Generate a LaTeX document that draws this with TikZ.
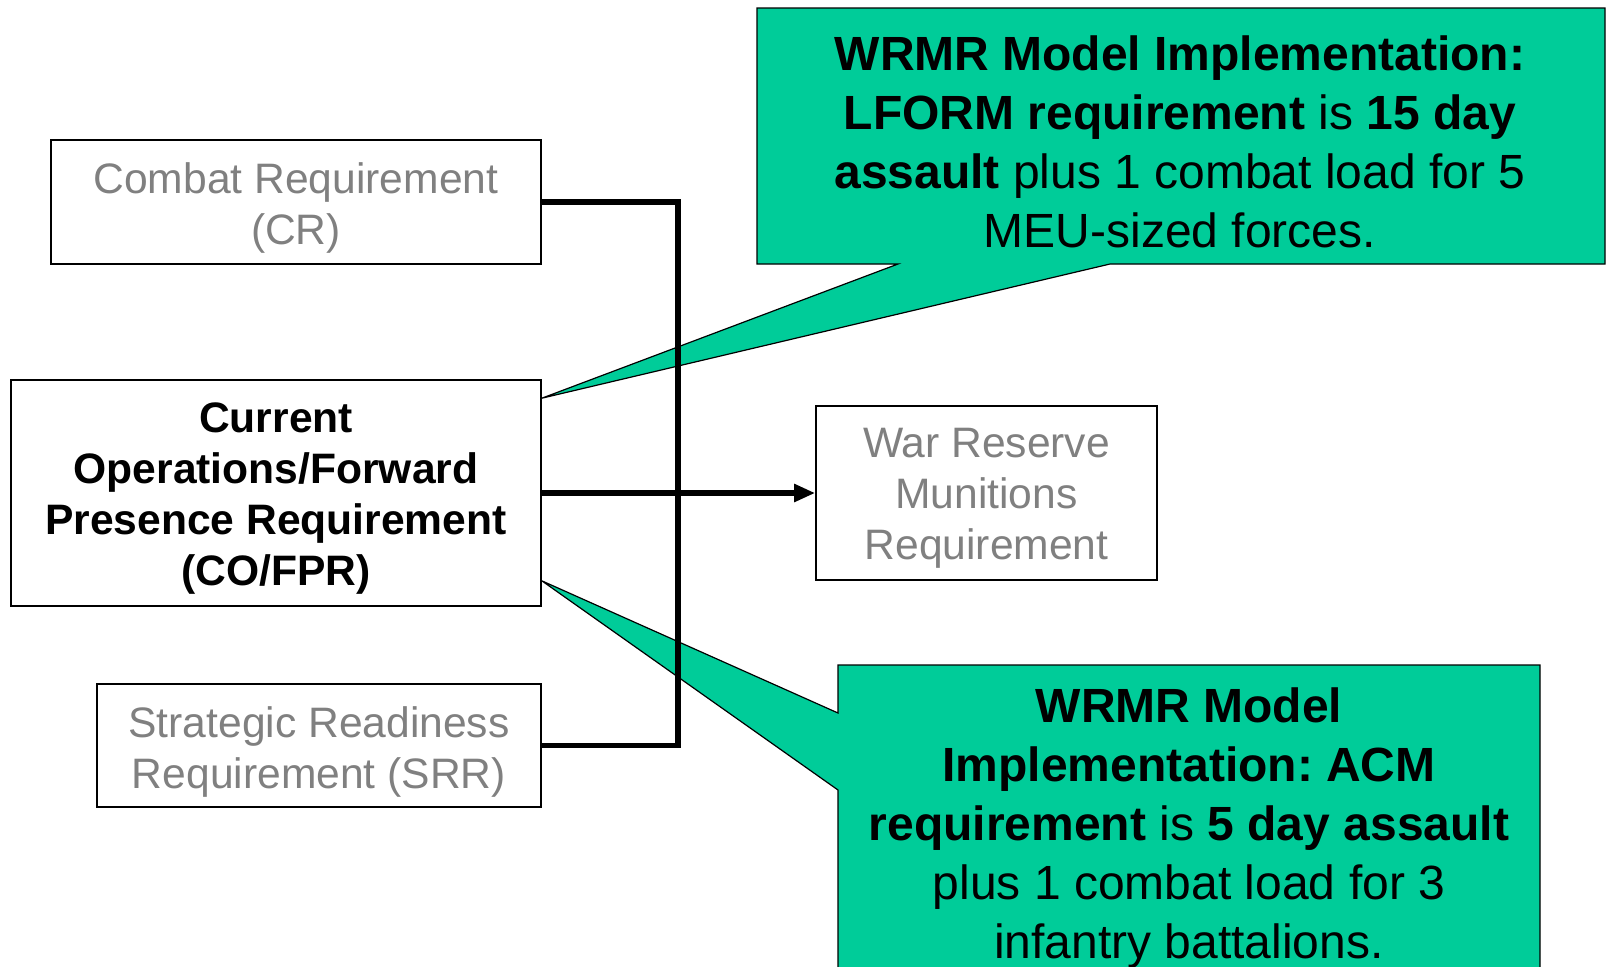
\documentclass[tikz,border=0pt]{standalone}
\usepackage{fontspec}
\setmainfont{Liberation Sans}
\frenchspacing
\usetikzlibrary{calc,arrows.meta}

\definecolor{reqgray}{RGB}{128,128,128}
\definecolor{calloutgreen}{RGB}{0,204,153}

\tikzset{
  reqbox/.style={draw=black, line width=0.8pt, fill=white, inner sep=0pt},
  boxtext/.style={align=center, inner sep=0pt, yshift=-3pt,
    font=\fontsize{21.3pt}{25.5pt}\selectfont},
  link/.style={line width=2.6pt, line join=miter},
  callout/.style={draw=black, line width=0.6pt, fill=calloutgreen},
  callouttext/.style={align=center, inner sep=0pt,
    font=\fontsize{24pt}{29.5pt}\selectfont}
}

\begin{document}
\begin{tikzpicture}[x=0.5pt,y=-0.5pt]
  \useasboundingbox (0,0) rectangle (1608,966);
  \clip (0,0) rectangle (1608,966);

  % requirement boxes
  \node[reqbox, minimum width=245pt, minimum height=62pt,
    label={[boxtext, text=reqgray]center:Combat Requirement\\(CR)}]
    (cr) at (296,202) {};
  \node[reqbox, minimum width=265pt, minimum height=113pt,
    label={[boxtext, font=\fontsize{21.3pt}{25.5pt}\selectfont\bfseries]center:Current\\Operations/Forward\\Presence Requirement\\(CO/FPR)}]
    (co) at (276,493) {};
  \node[reqbox, minimum width=222pt, minimum height=61.5pt,
    label={[boxtext, text=reqgray]center:Strategic Readiness\\Requirement (SRR)}]
    (srr) at (319,745.5) {};
  \node[reqbox, minimum width=170.5pt, minimum height=87pt,
    label={[boxtext, text=reqgray, yshift=0.5pt]center:War Reserve\\Munitions\\Requirement}]
    (wrm) at (986.5,493) {};

  \coordinate (tipa) at ($(co.north east)+(0,19)$);
  \coordinate (tipb) at ($(co.south east)+(0,-26)$);

  % callouts
  \draw[callout] (757,8) -- (1605,8) -- (1605,264) -- (1110,264)
    -- (tipa) -- (898,264) -- (757,264) -- cycle;
  \draw[callout] (838,665) -- (1540,665) -- (1540,1010) -- (838,1010)
    -- (838,790) -- (tipb) -- (838,713) -- cycle;

  \node[callouttext] (calla) at (1180,142)
    {\textbf{WRMR Model Implementation:}\\
     \textbf{LFORM requirement} is \textbf{15 day}\\
     \textbf{assault} plus 1 combat load for 5\\
     MEU-sized forces.};
  \node[callouttext] (callb) at (1189,828)
    {\textbf{WRMR Model}\\
     \textbf{Implementation: ACM}\\
     \textbf{requirement} is \textbf{5 day assault}\\
     plus 1 combat load for 3\\
     infantry battalions.};

  % connectors
  \coordinate (joint) at (678,493);
  \draw[link] (cr.east) -| (joint) |- (srr.east);
  \draw[link, -{Triangle[length=10.5pt,width=8.5pt]}] (co.east) -- (wrm.west);
\end{tikzpicture}
\end{document}
